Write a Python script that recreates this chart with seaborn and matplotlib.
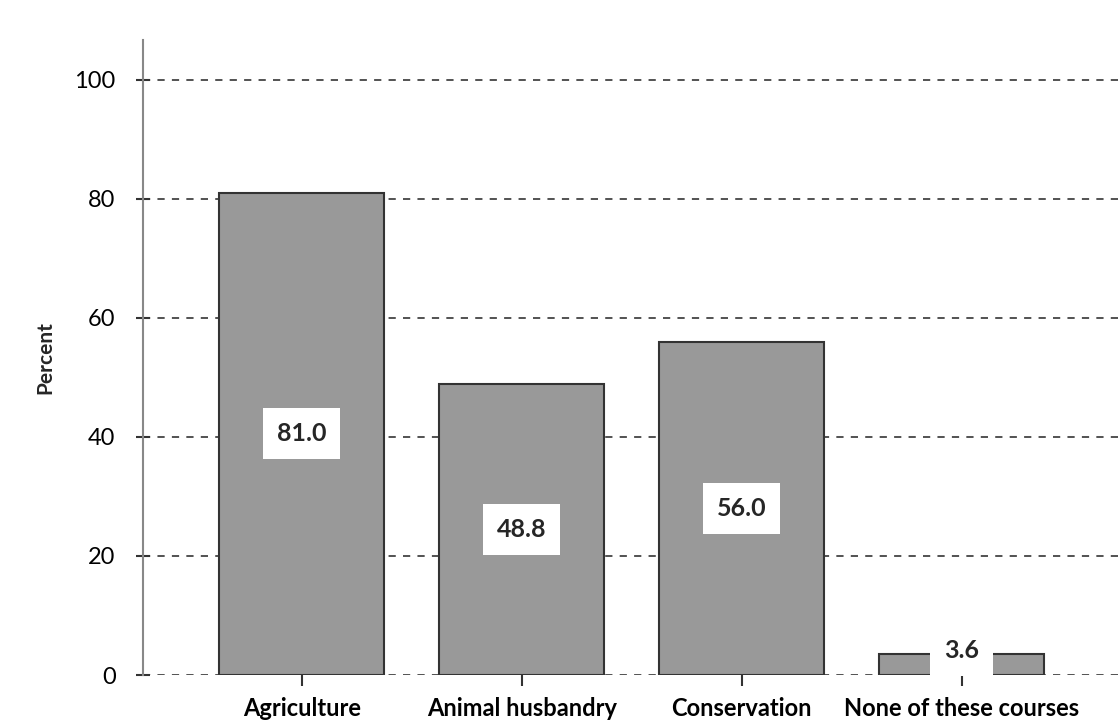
import matplotlib
matplotlib.use("Agg")
import matplotlib.pyplot as plt
import pandas as pd
import seaborn as sns

# Data
courses = ["Agriculture", "Animal husbandry", "Conservation", "None of these courses"]
percent = [81.0, 48.8, 56.0, 3.6]
yticks = [0, 20, 40, 60, 80, 100]

df = pd.DataFrame({"Course": courses, "Percent": percent})

sns.set_style("white")
plt.rcParams["font.family"] = ["Lato", "DejaVu Sans"]

fig = plt.figure(figsize=(11.2, 7.22), dpi=100)
ax = fig.add_axes([0.128, 0.065, 0.872, 0.88])

sns.barplot(
    data=df,
    x="Course",
    y="Percent",
    color="#999999",
    saturation=1,
    width=0.75,
    edgecolor="#333333",
    linewidth=1.5,
    ax=ax,
    zorder=3,
)

# Value labels in white boxes around the middle of each bar
for i, v in enumerate(percent):
    ax.text(
        i,
        max(v / 2, 4.2),
        f"{v:.1f}",
        ha="center",
        va="center",
        fontsize=18,
        fontweight="bold",
        zorder=5,
        bbox={"facecolor": "white", "edgecolor": "none", "pad": 10},
    )

ax.set_xlim(-0.72, 3.72)
ax.set_ylim(0, 106.7)
ax.set_yticks(yticks)
ax.yaxis.grid(True, linestyle=(0, (4, 4)), color="#444444", linewidth=1.3)
ax.set_axisbelow(True)

for side in ["top", "right", "bottom"]:
    ax.spines[side].set_visible(False)
ax.spines["left"].set_color("#888888")
ax.spines["left"].set_linewidth(1.5)

ax.tick_params(axis="y", direction="inout", length=10, width=1.5, color="#333333",
               labelsize=17, labelcolor="black", pad=15, left=True)
ax.tick_params(axis="x", direction="out", length=8, width=1.5, color="#333333",
               labelsize=17, labelcolor="black", pad=8, bottom=True)
for lbl in ax.get_xticklabels():
    lbl.set_fontweight("bold")

ax.set_xlabel("")
ax.set_ylabel("Percent", fontsize=15, fontweight="bold", labelpad=14)

fig.savefig("out.png", dpi=100)
